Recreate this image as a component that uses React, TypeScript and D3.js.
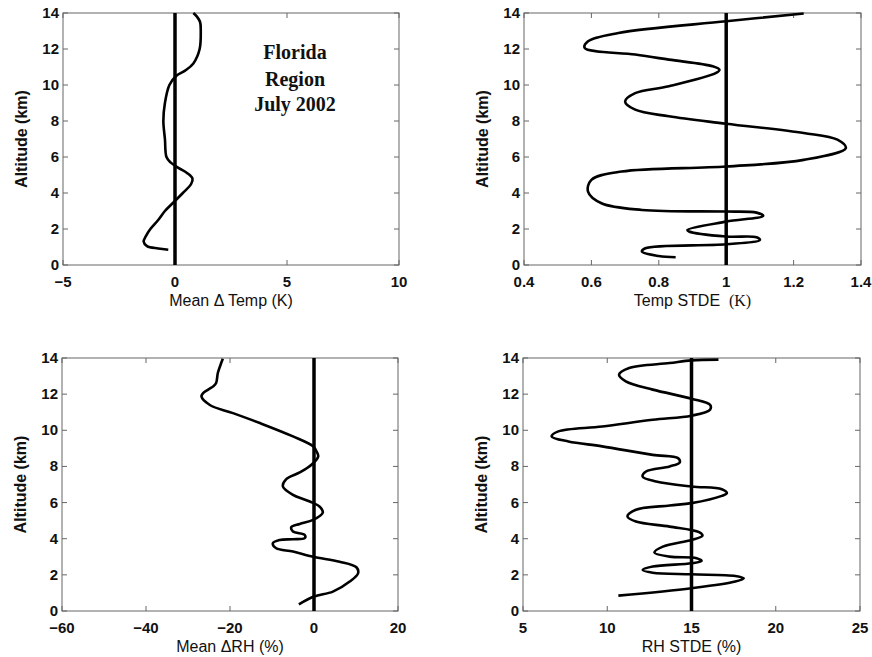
import React from "react";
import * as d3 from "d3";

const W = 872;
const H = 657;

// altitude ticks shared by all four panels
const altTicks = [0, 2, 4, 6, 8, 10, 12, 14];

// Mean delta temp (K) profile
const tempMeanAlt = [0.85, 0.92, 1.05, 1.3, 1.6, 2.0, 2.5, 3.0, 3.5, 4.0, 4.5, 4.8, 5.1, 5.4, 5.7, 6.0, 7.0, 8.0, 9.0, 10.0, 10.5, 10.8, 11.2, 12.0, 13.0, 13.5, 13.8, 14.0];
const tempMean = [-0.3, -0.75, -1.25, -1.4, -1.3, -1.1, -0.75, -0.45, -0.05, 0.35, 0.72, 0.78, 0.55, 0.15, -0.2, -0.38, -0.45, -0.52, -0.45, -0.25, 0.05, 0.45, 0.82, 1.1, 1.15, 1.12, 0.98, 0.82];

// Temp STDE (K) profile
const tempStdeAlt = [0.43, 0.5, 0.74, 0.93, 1.15, 1.39, 1.54, 1.58, 1.86, 1.95, 2.41, 2.73, 2.91, 2.97, 3.06, 3.43, 4.08, 4.73, 5.19, 5.47, 5.84, 6.49, 6.96, 7.33, 7.85, 8.26, 8.63, 9.09, 9.55, 9.93, 10.67, 10.85, 11.04, 11.41, 11.69, 12.06, 12.43, 12.89, 13.54, 13.97];
const tempStde = [0.85, 0.8, 0.75, 0.76, 1.0, 1.1, 1.09, 1.0, 0.89, 0.885, 1.0, 1.11, 1.09, 1.0, 0.75, 0.63, 0.59, 0.6, 0.69, 1.0, 1.23, 1.355, 1.33, 1.23, 1.0, 0.83, 0.73, 0.7, 0.73, 0.83, 0.97, 0.98, 0.96, 0.83, 0.73, 0.58, 0.59, 0.68, 1.0, 1.23];

// Mean delta RH (%) profile
const rhMeanAlt = [0.37, 0.8, 1.07, 1.63, 2.09, 2.42, 2.73, 3.0, 3.29, 3.47, 3.75, 3.93, 3.97, 4.03, 4.21, 4.4, 4.64, 4.82, 5.04, 5.45, 5.78, 6.06, 6.43, 6.89, 7.3, 7.67, 8.09, 8.55, 8.83, 9.11, 9.66, 10.4, 10.95, 11.4, 11.88, 12.06, 12.25, 12.43, 12.62, 13.17, 13.72, 13.96];
const rhMean = [-3.6, 0, 4.5, 8.5, 10.5, 10.1, 6.1, -0.2, -5.0, -9.0, -9.8, -8.2, -5.0, -2.2, -2.2, -5.0, -5.4, -3.4, -0.2, 2.1, 1.3, -1.0, -5.0, -7.4, -6.6, -3.4, -0.6, 1.0, 0.6, -0.2, -5.0, -12.9, -19.3, -24.8, -26.8, -26.4, -25.2, -24.0, -23.3, -22.9, -22.1, -21.7];

// RH STDE (%) profile
const rhStdeAlt = [0.85, 1.26, 1.63, 1.81, 1.94, 2.03, 2.12, 2.27, 2.46, 2.64, 2.77, 2.92, 3.01, 3.23, 3.56, 3.93, 4.16, 4.36, 4.67, 4.95, 5.23, 5.6, 5.84, 5.97, 6.37, 6.52, 6.74, 6.89, 7.17, 7.44, 7.72, 8.0, 8.22, 8.46, 8.64, 9.11, 9.38, 9.66, 9.94, 10.21, 10.58, 10.81, 11.14, 11.41, 11.75, 12.25, 12.71, 13.08, 13.45, 13.72, 13.87, 13.91];
const rhStde = [10.66, 15.0, 17.6, 18.1, 17.6, 15.0, 12.7, 12.1, 12.7, 15.0, 15.6, 15.3, 13.7, 12.8, 13.3, 15.0, 15.65, 15.45, 13.7, 11.7, 11.2, 11.7, 13.7, 15.0, 16.8, 17.1, 16.8, 15.0, 12.9, 12.1, 12.3, 13.7, 14.3, 14.2, 12.7, 9.7, 7.7, 6.7, 7.1, 9.7, 12.7, 15.0, 16.1, 16.1, 15.0, 12.7, 11.1, 10.7, 11.3, 13.7, 15.0, 16.6];

const fmt = (v: number) => (v < 0 ? "\u2212" + Math.abs(v) : String(v));

type PanelProps = {
  box: [number, number, number, number];
  xDomain: [number, number];
  xTicks: number[];
  refValue: number;
  alt: number[];
  vals: number[];
  xLabel: React.ReactNode;
};

const sans = "Liberation Sans, Arial, sans-serif";

function Panel({ box, xDomain, xTicks, refValue, alt, vals, xLabel }: PanelProps) {
  const [x0, y0, x1, y1] = box;
  const x = d3.scaleLinear().domain(xDomain).range([x0, x1]);
  const y = d3.scaleLinear().domain([0, 14]).range([y1, y0]);
  const idx = d3.range(vals.length);
  const line = d3
    .line<number>()
    .x((i) => x(vals[i]))
    .y((i) => y(alt[i]))
    .curve(d3.curveCatmullRom.alpha(0.5));
  const tl = 5;
  return (
    <g>
      <rect x={x0} y={y0} width={x1 - x0} height={y1 - y0} fill="none" stroke="#666" strokeWidth={1} />
      {altTicks.map((t) => (
        <g key={"y" + t}>
          <line x1={x0} x2={x0 + tl} y1={y(t)} y2={y(t)} stroke="#666" />
          <line x1={x1} x2={x1 - tl} y1={y(t)} y2={y(t)} stroke="#666" />
          <text x={x0 - 4} y={y(t) + 5} textAnchor="end" fontFamily={sans} fontWeight="bold" fontSize={15} fill="#111">
            {t}
          </text>
        </g>
      ))}
      {xTicks.map((t) => (
        <g key={"x" + t}>
          <line x1={x(t)} x2={x(t)} y1={y1} y2={y1 - tl} stroke="#666" />
          <line x1={x(t)} x2={x(t)} y1={y0} y2={y0 + tl} stroke="#666" />
          <text x={x(t)} y={y1 + 22} textAnchor="middle" fontFamily={sans} fontWeight="bold" fontSize={15} fill="#111">
            {fmt(t)}
          </text>
        </g>
      ))}
      <text
        transform={`translate(${x0 - 36},${(y0 + y1) / 2}) rotate(-90)`}
        textAnchor="middle"
        fontFamily={sans}
        fontSize={16}
        fontWeight="bold"
        fill="#111"
      >
        Altitude (km)
      </text>
      <text x={(x0 + x1) / 2} y={y1 + 41} textAnchor="middle" fontFamily={sans} fontSize={16} fill="#111">
        {xLabel}
      </text>
      <line x1={x(refValue)} x2={x(refValue)} y1={y0} y2={y1} stroke="#000" strokeWidth={3.5} />
      <path d={line(idx) || ""} fill="none" stroke="#000" strokeWidth={2.6} strokeLinejoin="round" />
    </g>
  );
}

export default function App() {
  return (
    <svg width={W} height={H} style={{ position: "absolute", left: 0, top: 0, background: "#fff" }}>
      <rect width={W} height={H} fill="#fff" />
      <Panel
        box={[63, 13, 399, 265]}
        xDomain={[-5, 10]}
        xTicks={[-5, 0, 5, 10]}
        refValue={0}
        alt={tempMeanAlt}
        vals={tempMean}
        xLabel="Mean Δ Temp (K)"
      />
      <Panel
        box={[524, 13, 861, 265]}
        xDomain={[0.4, 1.4]}
        xTicks={[0.4, 0.6, 0.8, 1, 1.2, 1.4]}
        refValue={1}
        alt={tempStdeAlt}
        vals={tempStde}
        xLabel={
          <>
            Temp STDE{"\u00a0\u00a0"}
            <tspan fontFamily="Liberation Serif, Times New Roman, serif">(K)</tspan>
          </>
        }
      />
      <Panel
        box={[62, 358, 398, 611]}
        xDomain={[-60, 20]}
        xTicks={[-60, -40, -20, 0, 20]}
        refValue={0}
        alt={rhMeanAlt}
        vals={rhMean}
        xLabel="Mean ΔRH (%)"
      />
      <Panel
        box={[523, 358, 860, 611]}
        xDomain={[5, 25]}
        xTicks={[5, 10, 15, 20, 25]}
        refValue={15}
        alt={rhStdeAlt}
        vals={rhStde}
        xLabel="RH STDE (%)"
      />
      <g fontFamily="Liberation Serif, Times New Roman, serif" fontWeight="bold" fontSize={20} fill="#111" textAnchor="middle">
        <text x={295} y={59}>Florida</text>
        <text x={295} y={86}>Region</text>
        <text x={295} y={111}>July 2002</text>
      </g>
    </svg>
  );
}
